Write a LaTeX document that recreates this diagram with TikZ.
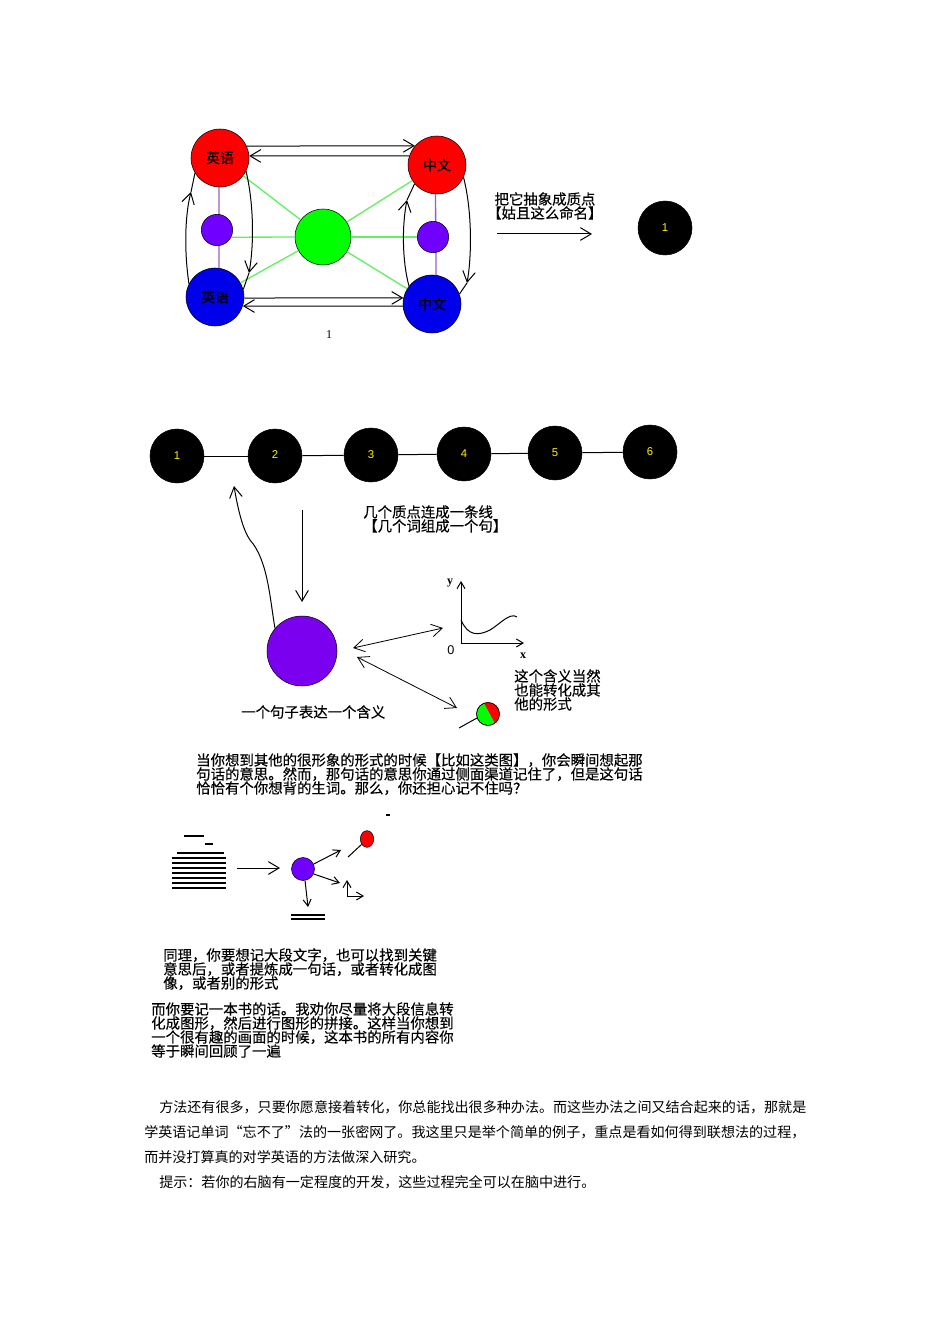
\documentclass[tikz,border=0pt]{standalone}
\usepackage{fontspec}
\setmainfont{Liberation Serif}
\setsansfont{Liberation Sans}
\newfontfamily\cjk{Noto Sans CJK SC}
\newfontfamily\cjkdark[FakeBold=0.35]{Noto Sans CJK SC}
\usetikzlibrary{positioning,arrows.meta,shapes.geometric}
\definecolor{ballblue}{RGB}{0,0,235}
\definecolor{ballgreen}{RGB}{0,255,0}
\definecolor{ballpurple}{RGB}{112,0,255}
\definecolor{bigpurple}{RGB}{124,0,240}
\definecolor{spoke}{RGB}{100,240,100}
\definecolor{stem}{RGB}{160,90,190}

\begin{document}
\begin{tikzpicture}[
  x=0.75pt,y=-0.75pt,
  ball/.style={circle,draw,fill=#1,inner sep=0pt},
  bigball/.style={ball=#1,minimum size=43.5pt,font=\cjkdark\fontsize{10.5pt}{10.5pt}\selectfont},
  midball/.style={ball=#1,minimum size=23.5pt},
  blackball/.style={ball=black,minimum size=40.5pt,text=yellow,font=\sffamily\fontsize{8.5pt}{9pt}\selectfont},
  lab/.style={font=\cjkdark\fontsize{10.8pt}{10.5pt}\selectfont,inner sep=0pt,align=left},
  arr/.style={-{Straight Barb[length=8pt,width=9.5pt]},line width=0.75pt},
  biarr/.style={{Straight Barb[length=8pt,width=9.5pt]}-{Straight Barb[length=8pt,width=9.5pt]},line width=0.6pt},
  smallarr/.style={-{Straight Barb[length=5pt,width=6pt]},line width=0.75pt},
  link/.style={line width=0.75pt,black},
  greenlink/.style={line width=1pt,spoke},
  purplelink/.style={line width=1pt,stem},
  rule/.style={line width=0.85pt,black},
]
\useasboundingbox (0,0) rectangle (950,1344);

% === TOP: four language balls ===
\node[bigball=red] (enred) at (220,158) {\raisebox{1pt}{英语}};
\node[bigball=red] (cnred) at (437,165) {\raisebox{-1pt}{中文}};
\node[bigball=ballblue] (enblue) at (215,297) {\raisebox{-4pt}{英语}};
\node[bigball=ballblue] (cnblue) at (432,304) {中文};

\draw[purplelink] (enred.-92) -- (enblue.82);
\draw[purplelink] (cnred.-93) -- (cnblue.82);

\node[ball=ballgreen,minimum size=42pt] (core) at (323,237) {};
\node[midball=ballpurple] (enmid) at (217,230) {};
\node[midball=ballpurple] (cnmid) at (433,237) {};

% green spokes
\draw[greenlink] (enred) -- (core);
\draw[greenlink] (cnred) -- (core);
\draw[greenlink] (enblue) -- (core);
\draw[greenlink] (cnblue) -- (core);
\draw[greenlink] (enmid.-27) -- (core.west);
\draw[greenlink] (core.east) -- (cnmid.west);

% arrows round the square
\draw[arr] (enred.24) -- (cnred.139);
\draw[arr] (cnred.162) -- (enred.4);
\draw[arr] (enblue.-2) -- (cnblue.168);
\draw[arr] (cnblue.184) -- (enblue.-18);

% side arrows have their heads part way along
\coordinate (enlefttip) at (191,192);
\coordinate (enrighttip) at (249,273);
\coordinate (cnrighttip) at (467,283);
\coordinate (cnlefttip) at (407,200);
\draw[arr] (enblue.153) .. controls (184,250) and (185,215) .. (enlefttip);
\draw[link] (enlefttip) -- (enred.211);
\draw[arr] (enred.-27) .. controls (254,205) and (254,245) .. (enrighttip);
\draw[link] (enrighttip) -- (enblue.15);
\draw[arr] (cnred.-25) .. controls (472,210) and (472,255) .. (cnrighttip);
\draw[link] (cnrighttip) -- (cnblue.20);
\draw[arr] (cnblue.142) .. controls (402,260) and (402,225) .. (cnlefttip);
\draw[link] (cnlefttip) -- (cnred.220);

\node[font=\fontsize{9pt}{9pt}\selectfont,inner sep=0pt] (cap) at (329,335) {1};

% === ABSTRACTED POINT ===
\node[lab,anchor=north west] (abstract) at (493,192) {\hspace*{1pt}把它抽象成质点\\\hspace*{-4.5pt}【姑且这么命名】};
\coordinate (absstart) at (497,234);
\coordinate (absend) at (592,234);
\draw[arr] (absstart) -- (absend);
\node[blackball] (p0) at (665,228) {1};

% === CHAIN OF POINTS ===
\node[blackball] (n1) at (177,456) {1};
\node[blackball] (n2) at (275,456) {\raisebox{2pt}{2}};
\node[blackball] (n3) at (371,455) {\raisebox{1pt}{3}};
\node[blackball] (n4) at (464,454) {4};
\node[blackball] (n5) at (555,453) {5};
\node[blackball] (n6) at (650,452) {6};
\foreach \a/\b in {n1/n2,n2/n3,n3/n4,n4/n5,n5/n6}
  \draw[link] (\a) -- (\b);

\node[lab,anchor=north west] (chaintext) at (363,505) {几个质点连成一条线\\【几个词组成一个句】};

% === SENTENCE BALL ===
\node[ball=bigpurple,minimum size=52.5pt] (sent) at (302,651) {};
\coordinate (downstart) at (302,510);
\coordinate (downend) at (302,602);
\draw[arr] (downstart) -- (downend);
\coordinate (uptip) at (234,486);
\draw[arr] (sent.140) .. controls (270,600) and (268,560) .. (250,540) .. controls (243,530) and (238,510) .. (uptip);
\node[lab,anchor=west] (senttext) at (241,712) {一个句子表达一个含义};

% small graph
\coordinate (origin) at (461,643);
\coordinate (ytop) at (461,581);
\coordinate (xend) at (524,643);
\draw[smallarr] (origin) -- (ytop);
\draw[smallarr] (origin) -- (xend);
\draw[link] (461,620) .. controls (468,636) and (478,636) .. (490,630) .. controls (500,624) and (510,612) .. (517,617);
\node[font=\fontsize{9pt}{9pt}\selectfont\bfseries,inner sep=0pt] (ylab) at (450,583) {y};
\node[font=\sffamily\fontsize{9.5pt}{9pt}\selectfont,inner sep=0pt] (zerolab) at (451,650) {0};
\node[font=\fontsize{9pt}{9pt}\selectfont\bfseries,inner sep=0pt] (xlab) at (523,656) {x};

% lollipop
\node[ball=ballgreen,minimum size=17.25pt] (lolli) at (488,714) {};
\fill[red] (lolli.110) arc[start angle=110,end angle=-53,radius=8.6pt] -- cycle;
\draw (lolli.center) circle[radius=8.6pt];
\coordinate (stick) at (459,728);
\draw[link] (stick) -- (lolli.200);

\coordinate (graphend) at (443,628);
\coordinate (sentgap) at (353,648);
\coordinate (sentgapb) at (357,657);
\coordinate (lolliend) at (457,708);
\draw[biarr] (sentgap) -- (graphend);
\draw[biarr] (sentgapb) -- (lolliend);

\node[lab,anchor=north west] (formtext) at (514,669) {这个含义当然\\也能转化成其\\他的形式};

\node[lab,anchor=north west] (whentext) at (196,753) {当你想到其他的很形象的形式的时候【比如这类图】，你会瞬间想起那\\句话的意思。然而，那句话的意思你通过侧面渠道记住了，但是这句话\\恰恰有个你想背的生词。那么，你还担心记不住吗？};

% === LOWER SKETCH ===
\draw[rule] (184,836) -- (204,836);
\draw[rule] (205,844) -- (213,844);
\draw[rule] (177,853) -- (224,853);
\foreach \y in {858,863,868,873,878,883,888}
  \draw[rule] (172,\y) -- (226,\y);

\coordinate (textend) at (237,868);
\coordinate (toball) at (280,868);
\node[midball=ballpurple,minimum size=17.25pt] (mini) at (303,869) {};
\draw[arr] (textend) -- (toball);
\node[ellipse,draw,fill=red,inner sep=0pt,minimum width=10pt,minimum height=12.5pt] (miniegg) at (367,839) {};
\coordinate (eggstick) at (348,857);
\draw[link] (eggstick) -- (miniegg.225);

\coordinate (toegg) at (341,850);
\coordinate (toaxes) at (340,883);
\coordinate (tolines) at (308,907);
\draw[smallarr] (mini.25) -- (toegg);
\draw[smallarr] (mini.-25) -- (toaxes);
\draw[smallarr] (mini.-80) -- (tolines);

\coordinate (miniorigin) at (347,896);
\coordinate (miniytop) at (347,880);
\coordinate (minixend) at (364,896);
\draw[smallarr] (miniorigin) -- (miniytop);
\draw[smallarr] (miniorigin) -- (minixend);

\draw[rule] (291,915) -- (325,915);
\draw[rule] (291,919) -- (325,919);
\draw[thick] (386,815) -- (390,815);

\node[lab,anchor=north west] (sametext) at (163,948) {同理，你要想记大段文字，也可以找到关键\\意思后，或者提炼成一句话，或者转化成图\\像，或者别的形式};
\node[lab,anchor=north west] (booktext) at (151,1002) {而你要记一本书的话。我劝你尽量将大段信息转\\化成图形，然后进行图形的拼接。这样当你想到\\一个很有趣的画面的时候，这本书的所有内容你\\等于瞬间回顾了一遍};

% === BODY TEXT ===
\node[font=\cjk\fontsize{10.55pt}{18.75pt}\selectfont,inner sep=0pt,align=left,anchor=north west] (bodytext) at (144,1100)
  {\hspace*{11.25pt}方法还有很多，只要你愿意接着转化，你总能找出很多种办法。而这些办法之间又结合起来的话，那就是\\
   学英语记单词\makebox[10.55pt][r]{“}忘不了\makebox[10.55pt][l]{”}法的一张密网了。我这里只是举个简单的例子，重点是看如何得到联想法的过程，\\
   而并没打算真的对学英语的方法做深入研究。\\
   \hspace*{11.25pt}提示：若你的右脑有一定程度的开发，这些过程完全可以在脑中进行。};

\end{tikzpicture}
\end{document}
